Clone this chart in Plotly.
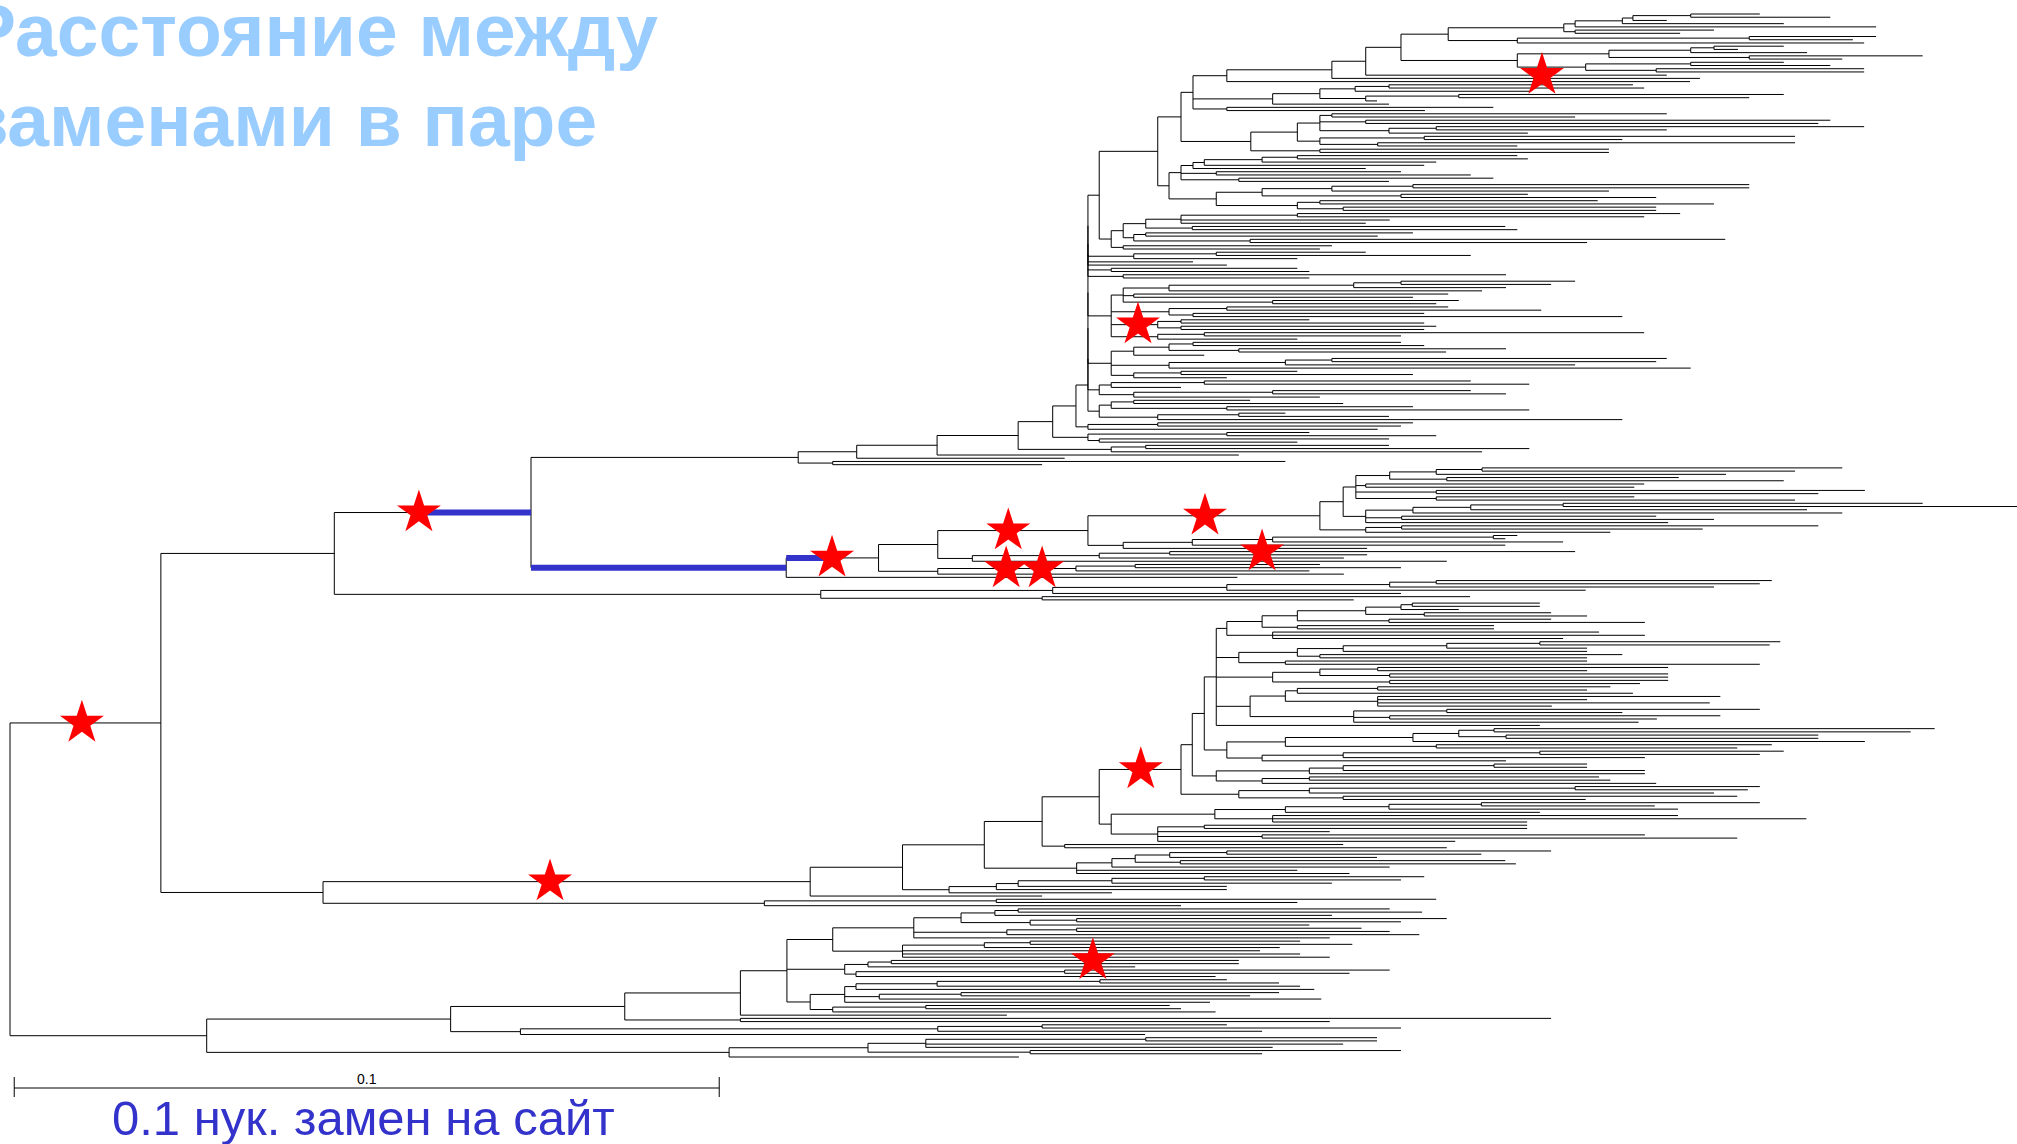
import plotly.graph_objects as go

# ---------------------------------------------------------------------------
# DATA
# A node is [depth, optional "label", child, child, ...]; a bare number is a leaf.
# depth = distance from the root, in units of 0.001 nucleotide substitutions per site
# labels mark branches that carry a star or a highlighted (blue) segment.
# ---------------------------------------------------------------------------
DEPTH_UNIT = 1e-3

# ---- top clade -------------------------------------------------------------
T1 = [220.4,
      [222.0, [228.7, [230.2, [238.4, 248.2, 258.2], 235.0], 251.6], 264.7],
      [222.0, 241.7, 236.9]]
T2 = [213.8, [246.7, 264.7, 261.4], 263.0]
T3 = [213.8,
      [226.8, [238.4, [241.7, 251.6, 245.1], 254.9], [246.7, 271.3, 259.9]],
      [223.5, [238.4, 251.6, 258.2], [233.5, 263.0, 263.0]]]
N1448 = [204.0, T1, T2]
N1401 = [197.3, N1448, T3]
N1366 = [192.3, N1401, [235.0, "top_star"]]
N1332 = [187.5, N1366, 239.7]
N1227 = [172.6, N1332, 238.3]
T_MID = [179.1,
         [185.8, [190.8, [195.6, 230.2, 231.8], 215.7], [192.3, [205.5, 251.6, 246.7], 193.9]],
         195.6]
N1227H = [172.6, 210.4, 200.7]
N1193 = [167.8, N1227, T_MID, N1227H]
T4 = [176.0,
      [182.6,
       [185.8, [187.5, 235.0, 222.0], [192.3, 258.2, 256.5], [195.6, [202.3, 263.0, 235.0], 215.3]],
       [185.8, [200.6, 253.2, 228.7], [194.0, 253.2, 213.8]]],
      [185.8, 226.8, 226.8]]
N1181 = [166.1, N1193, T4]
T5 = [164.4,
      [166.1,
       [167.8, [169.4, [177.6, [182.6, 213.8, 215.3], 202.3], 200.6], 192.3],
       [171.1, 197.3, 207.2],
       [174.3, 210.4, 195.6]],
      [171.1,
       [177.6, [187.5, [199.0, 246.7, 246.7], 226.8], [197.3, 215.3, 233.5]],
       [182.6, [185.8, 225.2, 241.7], [189.1, 233.5, 233.5]]]]
N1158 = [162.8, N1181, T5]
N1111U = [156.2,
          [157.9,
           [161.1, [166.1, [182.6, 236.9, 231.8], 195.7, 192.3], [167.7, 212.1, 213.8]],
           [159.4, [161.1, 199.0, 194.0], [175.9, 243.3, 223.7]]],
          [157.9, 187.5, 185.8]]
N1099U = [154.5, N1158, N1111U]

C3 = [159.4, [171.1, 192.3, 207.2], 182.6]
C4 = 167.8
C5 = 172.6
C6 = [156.2, 182.6, 184.3]
C7 = [157.9, 212.2, 184.3]
C8 = [156.2,
      [157.9, [164.4, [190.6, [197.3, 222.0, 218.6], 212.2], 208.8], [159.4, 204.0, 199.0], [179.1, 205.5, 202.3]],
      [164.4, [172.6, 204.0, 217.2], [167.8, 200.6, 228.7]],
      [162.8, "comb_star", [166.1, 184.3, 200.6], [166.1, 202.3, 200.6]],
      [162.8, [169.4, 231.8, 197.3], 182.6]]
C9 = [156.2,
      [159.4, [164.4, [167.8, 197.3, 200.6], [174.3, 212.2, 203.7]], 169.4],
      [164.4, [180.9, [187.5, 235.0, 233.5], 222.0], 238.4],
      [159.4, [166.1, 182.6, 199.0], 172.6]]
C10 = [154.5, [156.2, [169.4, 207.2, 215.5], 166.1], [159.4, [179.1, 207.2, 212.2], 185.8]]
C11 = [154.5, [156.2, [159.4, 175.9, 189.1], [172.6, 199.0, 215.5]], [162.8, [174.3, 180.9, 195.6], 228.7]]

COMB_DEPTH = 152.9          # a run of nodes with near-zero internal branches
COMB_CHILDREN = [C3, C4, C5, C6, C7, C8, C9, C10, C11]

# ---- middle clades -----------------------------------------------------------
N1320E = [185.8, "e5",
          [189.1,
           [190.9,
            [195.7, [202.3, [208.8, 259.9, 253.2], 243.4], [203.8, 236.7, 251.6]],
            [192.3, 231.8, 230.4],
            [202.3, 263.1, 256.5],
            [202.3, 230.4, 253.2]],
           [192.3, [199.0, [207.2, [220.3, 271.3, 287.0], 254.9], 259.9], [197.4, 233.5, 241.7], 235.2]],
          [192.3, [197.4, 256.5, 240.1], 227.0]]
N1123E = [157.9, [167.7, [179.1, [210.4, 213.8, 212.1], 220.3], 212.1], 192.5]
N1088E = [152.9, "e4", N1320E, N1123E]
N1099E = [154.5, [164.5, [222.0, "e7"], 192.5], 189.2]
N972 = [136.5, N1099E, 203.8]
N938A = [131.6, N1088E, N972]
N1076E = [151.2, "e6", [159.6, 185.8, 197.3], 184.3]
N938B = [131.6, N1076E, 189.2]
E1 = [123.2, "e1", N938A, N938B]
E = [110.1, "e_stem", E1, 174.1]
H = [115.0, [147.9, [172.6, [195.7, [202.3, 249.9, 248.2], 241.7], 223.5], 197.3],
     [146.4, 207.1, 190.6]]

# ---- lower clade -------------------------------------------------------------
N1227A = [172.6, [177.6, [182.6, [192.3, [197.3, [198.9, 217.0, 217.0], 205.5], [200.6, 218.6, 223.7]],
                          [195.6, 218.6, 231.9]], [182.6, 210.5, 210.5]],
          [179.1, 225.4, 231.9, 220.3]]
N1239B = [174.3, [182.6, [189.1, [203.8, [217.0, 251.1, 249.6], 223.7], 223.7], [185.8, 228.7, 223.7]],
          [180.9, 223.7, 248.2]]
N1274G = [179.1, [185.8, [194.0, 235.2, 223.7], [195.7, 235.2, 235.2]], [195.7, 235.2, 231.2]]
N1250G = [175.9, [180.9, [182.6, [194.0, 227.0, 223.7], 230.2], [194.0, 242.6, 223.7, 241.1, 218.7]],
          [190.6, [203.8, 248.2, 228.7], [195.7, 242.6, 233.6], 231.0]]
N1216B = [171.1, N1227A, N1239B, N1274G, N1250G, 217.0]
N1285G = [180.9, [199.0, [205.5, [210.5, 273.0, 269.6], [212.2, 256.5, 256.5]], 263.1], [202.3, 249.9, 245.0]]
N1262G = [177.6, [189.1, [217.0, 251.6, 248.2], 231.9], 212.2]
N1227G = [172.6, N1285G, N1262G]
N1204G = [169.4, N1216B, N1227G]
N1216G = [171.1, [184.3, [189.1, [210.5, 223.7, 223.7], 231.9], 231.9], [177.6, [184.3, 225.4, 227.0], 233.5]]
N1192G = [167.7, N1204G, N1216G]
N1239G = [174.3, [184.3, [222.0, 248.2, 246.5], 241.7], [189.1, 245.0, 223.5]]
N1181G = [166.1, "g11", N1192G, N1239G]
N1111G = [156.2,
          [170.9, [180.9, [195.6, [208.7, 248.2, 233.3], 236.6], 217.0], [179.1, 236.6, 254.8, 215.2]],
          [162.8, [169.4, 215.2, 215.2], 187.2, [177.6, 231.9, 245.0], 205.0]]
N1099G = [154.5, N1181G, N1111G]
N1042G = [146.4, N1099G, [149.6, 189.1, 203.8]]
N1077G = [151.3, [156.3, [159.6, [164.5, [172.6, 218.6, 208.7], 193.9], [166.0, 212.1, 213.6]], 195.7],
          182.6, 190.0]
N984G = [138.2, N1042G, N1077G]
N949G = [133.2, [139.9, [143.0, [156.3, [169.4, 200.6, 197.3], 187.5], 172.6], 172.6], 156.3]
N902G = [126.6, N984G, N949G]
N809G = [113.5, "g10", N902G, 146.4]
G2 = [107.0, [139.9, 202.3, 182.6], 166.1]

# ---- bottom clade ------------------------------------------------------------
N833F = [116.7,
         [128.2,
          [134.9, [139.7, [143.0, 195.7, 200.3], 187.5], [144.7, [151.3, 203.8, 197.3], 184.3]],
          [141.4, [151.3, 191.7, 195.7], 199.9],
          187.2],
         [126.6, [138.2, [144.7, 183.0, 190.4], 180.1], 177.3, 183.0, 187.2]]
N845F = [118.4, [121.7, [125.0, [174.3, "f12"], 174.3], 159.6], [120.0, [149.6, 195.7, 190.0], 171.0]]
N810F = [113.5, [118.4, [120.0, [131.5, [154.6, 172.6, 180.0], 183.0], 185.0],
                 [123.3, [134.9, 180.0, 175.9], 186.0], 170.2],
         [116.7, [129.9, 164.5, 166.1], 171.0]]
N786F = [110.2, N833F, N845F, N810F]
N740F = [103.6, N786F, 141.4]
N624F = [87.2, N740F, [103.6, 218.6, 187.2]]
N521F = [72.4, [131.6, [146.4, 172.6, 197.3], 177.6], 161.0]
N450F = [62.5, N624F, N521F]
N729F = [102.0, [121.7, [129.9, [161.1, 193.9, 193.9], 189.1, 179.1], [144.7, 197.3, 177.6]], 143.1]

# mutations (stars): (branch label, depth on that branch)
STARS = [("a_stem", 10.2), ("c_stem", 58.0), ("e1", 116.6), ("e4", 141.6), ("e5", 169.5),
         ("e6", 141.3), ("e6", 146.4), ("e7", 177.6), ("comb_star", 160.0), ("top_star", 217.3),
         ("g10", 76.6), ("g11", 160.4), ("f12", 153.6)]
# highlighted path between paired substitutions: (branch label, from depth, to depth)
BLUE = [("c_stem", 58.8, 73.9), ("e_stem", 73.9, 110.1), ("e1", 110.1, 115.7)]

SCALE_BAR = 0.1
SCALE_LABEL = "0.1"
SCALE_TEXT = "0.1 нук. замен на сайт"
TITLE_LINES = ["Расстояние между", "заменами в паре"]

# ---------------------------------------------------------------------------
# assemble the tree
# ---------------------------------------------------------------------------
comb = N1099U
for ch in COMB_CHILDREN:
    comb = [COMB_DEPTH, comb, ch]
N1088Y = [152.9, [162.8, 199.0, 197.3], 194.0]
N1076 = [151.2, comb, N1088Y]
N1088Z = [152.9, [172.6, 184.3, 202.3], [154.5, 195.6, 182.6]]
N1053 = [147.9, N1076, N1088Z]
N1111A = [156.2, [161.1, 195.6, 215.5], 208.8]
N1018 = [143.0, N1053, N1111A]
N937 = [131.5, N1018, 174.3]
D1 = [120.1, N937, 149.6]
D2 = [116.7, 180.9, 146.4]
D = [111.8, D1, D2]
C = [73.9, "c_stem", D, E]
B = [46.0, C, H]
G = [44.4, N809G, G2]
A = [21.4, "a_stem", B, G]
F = [27.9, N450F, N729F]
ROOT = [0.0, A, F]

segs_h, segs_v, labels = [], [], {}
counter = [0]


def walk(node, parent_depth):
    if isinstance(node, (int, float)):
        depth, label, children = float(node), None, []
    else:
        depth, label, children = float(node[0]), None, []
        for el in node[1:]:
            if isinstance(el, str):
                label = el
            else:
                children.append(el)
    if not children:
        y = counter[0]
        counter[0] += 1
    else:
        ys = [walk(c, depth) for c in children]
        y = (ys[0] + ys[-1]) / 2.0
        segs_v.append((depth, ys[0], ys[-1]))
    segs_h.append((parent_depth, depth, y))
    if label:
        labels[label] = (parent_depth, depth, y)
    return y


walk(ROOT, 0.0)
n_leaves = counter[0]

xs, ys = [], []
for p, d, y in segs_h:
    if d > p:
        xs += [p * DEPTH_UNIT, d * DEPTH_UNIT, None]
        ys += [y, y, None]
for d, y0, y1 in segs_v:
    xs += [d * DEPTH_UNIT, d * DEPTH_UNIT, None]
    ys += [y0, y1, None]

bx, by = [], []
for lab, d0, d1 in BLUE:
    y = labels[lab][2]
    bx += [d0 * DEPTH_UNIT, d1 * DEPTH_UNIT, None]
    by += [y, y, None]

sx = [d * DEPTH_UNIT for lab, d in STARS]
sy = [labels[lab][2] for lab, d in STARS]

# ---------------------------------------------------------------------------
# figure
# ---------------------------------------------------------------------------
W, Hh = 2017, 1144
X0_PX, PX_PER_UNIT = 10.0, 7050.0          # root position and scale (px per subst/site)
Y_TOP_PX, Y_BOT_PX = 14.0, 1057.0          # first and last leaf
step = (Y_BOT_PX - Y_TOP_PX) / (n_leaves - 1)

FONT = "Liberation Sans, Arial, sans-serif"

fig = go.Figure()
fig.add_trace(go.Scatter(x=xs, y=ys, mode="lines", line=dict(color="#000000", width=1),
                         hoverinfo="skip", showlegend=False))
fig.add_trace(go.Scatter(x=bx, y=by, mode="lines", line=dict(color="#3333cc", width=6),
                         hoverinfo="skip", showlegend=False))
fig.add_trace(go.Scatter(x=sx, y=sy, mode="markers",
                         marker=dict(symbol="star", size=33, color="#ff0000", line=dict(width=0)),
                         hoverinfo="skip", showlegend=False))


def py(px):
    return 1 - px / Hh


bar_x0 = 0.0006
bar_x1 = bar_x0 + SCALE_BAR
shapes = [
    dict(type="line", xref="x", yref="paper", x0=bar_x0, x1=bar_x1, y0=py(1088), y1=py(1088),
         line=dict(color="#000000", width=1)),
    dict(type="line", xref="x", yref="paper", x0=bar_x0, x1=bar_x0, y0=py(1077), y1=py(1097),
         line=dict(color="#000000", width=1)),
    dict(type="line", xref="x", yref="paper", x0=bar_x1, x1=bar_x1, y0=py(1077), y1=py(1097),
         line=dict(color="#000000", width=1)),
]

annotations = [
    dict(text=SCALE_LABEL, xref="x", yref="paper", x=(bar_x0 + bar_x1) / 2, y=py(1079),
         showarrow=False, xanchor="center", yanchor="middle",
         font=dict(family=FONT, size=14, color="#000000")),
    dict(text=SCALE_TEXT, xref="paper", yref="paper", x=363.5 / W, y=py(1118),
         showarrow=False, xanchor="center", yanchor="middle",
         font=dict(family=FONT, size=49, color="#3333cc")),
    dict(text=TITLE_LINES[0], xref="paper", yref="paper", x=-36 / W, y=py(30),
         showarrow=False, xanchor="left", yanchor="middle",
         font=dict(family=FONT, size=75, color="#99ccff", weight="bold")),
    dict(text=TITLE_LINES[1], xref="paper", yref="paper", x=-31 / W, y=py(120),
         showarrow=False, xanchor="left", yanchor="middle",
         font=dict(family=FONT, size=75, color="#99ccff", weight="bold")),
]

fig.update_layout(
    width=W, height=Hh,
    margin=dict(l=0, r=0, t=0, b=0),
    paper_bgcolor="white", plot_bgcolor="white",
    showlegend=False,
    xaxis=dict(visible=False, range=[(0 - X0_PX) / PX_PER_UNIT, (W - X0_PX) / PX_PER_UNIT],
               fixedrange=True),
    yaxis=dict(visible=False, range=[(Hh - Y_TOP_PX) / step, (0 - Y_TOP_PX) / step],
               fixedrange=True),
    shapes=shapes,
    annotations=annotations,
)

# the page's default 8px body margin would shift the whole slide; remove it
fig.write_html("out.html", config={"displayModeBar": False},
               post_script="document.body.style.margin='0';")
